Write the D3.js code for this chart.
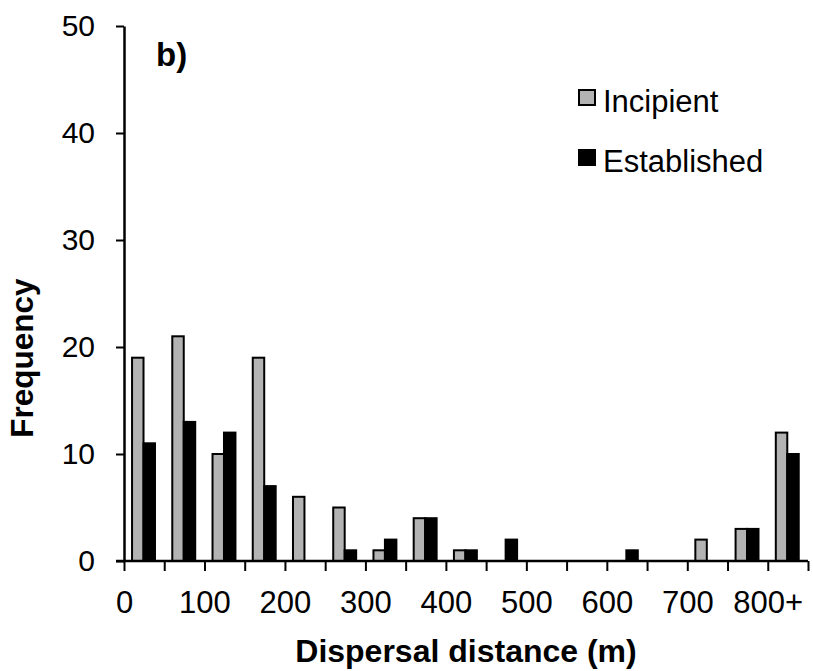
<!DOCTYPE html>
<head>
    <meta charset="utf-8">
    <title>Dispersal distance</title>
    <style>
        body { margin: 0; background: #fff; }
        svg text { font-family: "Liberation Sans", Arial, sans-serif; fill: #000; }
    </style>
</head>
<body>

<svg width="813" height="671"></svg>

<script src="https://d3js.org/d3.v7.min.js"></script>

<script>
    // bins of 50 m, last one is 800+
    var bins = [0, 50, 100, 150, 200, 250, 300, 350, 400, 450, 500, 550, 600, 650, 700, 750, 800];
    var incipient   = [19, 21, 10, 19, 6, 5, 1, 4, 1, 0, 0, 0, 0, 0, 2, 3, 12];
    var established = [11, 13, 12, 7, 0, 1, 2, 4, 1, 2, 0, 0, 1, 0, 0, 3, 10];
    var labelValues = [0, 100, 200, 300, 400, 500, 600, 700, 800];
    var labelText   = ["0", "100", "200", "300", "400", "500", "600", "700", "800+"];
    var yTicks = [0, 10, 20, 30, 40, 50];

    var series = ["Incipient", "Established"];
    var colors = { "Incipient": "#b3b3b3", "Established": "#000" };

    // plot area edges (note: "top" is reserved on window, so use other names)
    var svg = d3.select("svg"),
        plotL = 124, plotR = 808, plotT = 26, plotB = 561;

    // band scale for the bins
    var x0 = d3.scaleBand()
        .domain(bins)
        .range([plotL, plotR])
        .padding(0);

    var x1 = d3.scaleBand()
        .domain(series)
        .range([x0.bandwidth() * 0.2, x0.bandwidth() * 0.77]);

    // linear distance scale, only for tick marks and labels
    var xd = d3.scaleLinear()
        .domain([0, 850])
        .range([plotL, plotR]);

    var y = d3.scaleLinear()
        .domain([0, 50])
        .range([plotB, plotT]);

    // bars
    var rows = bins.map(function(b, i) {
        return { bin: b, values: [
            { key: "Incipient", value: incipient[i] },
            { key: "Established", value: established[i] }
        ] };
    });

    var groups = svg.append("g")
        .selectAll("g")
        .data(rows)
        .enter().append("g")
            .attr("transform", function(d) { return "translate(" + x0(d.bin) + ",0)"; });

    groups.selectAll("rect")
        .data(function(d) { return d.values.filter(function(v) { return v.value > 0; }); })
        .enter().append("rect")
            .attr("x", function(d) { return x1(d.key); })
            .attr("width", x1.bandwidth())
            .attr("y", function(d) { return y(d.value); })
            .attr("height", function(d) { return y(0) - y(d.value); })
            .attr("fill", function(d) { return colors[d.key]; })
            .attr("stroke", "#000")
            .attr("stroke-width", 2);

    // y axis
    var yAxis = svg.append("g")
        .attr("transform", "translate(" + plotL + ",0)")
        .call(d3.axisLeft(y)
            .tickValues(yTicks)
            .tickSize(8)
            .tickSizeOuter(0)
            .tickPadding(21));
    yAxis.selectAll("line").attr("stroke-width", 2);
    yAxis.select(".domain").attr("stroke-width", 2.5);
    yAxis.selectAll("text")
        .attr("font-size", 30)
        .attr("font-family", "Liberation Sans, Arial, sans-serif");

    // x axis: tick marks at bin edges
    var xTicks = svg.append("g")
        .attr("transform", "translate(0," + plotB + ")")
        .call(d3.axisBottom(xd)
            .tickValues(d3.range(0, 851, 50))
            .tickSize(10)
            .tickSizeOuter(0)
            .tickFormat(""));
    xTicks.selectAll("line").attr("stroke-width", 2);
    xTicks.select(".domain")
        .attr("stroke-width", 2.5)
        .attr("d", "M" + (plotL - 8) + ",0H" + plotR);

    // x labels every 100 m
    var xLabels = svg.append("g")
        .attr("transform", "translate(0," + plotB + ")")
        .call(d3.axisBottom(xd)
            .tickValues(labelValues)
            .tickSize(0)
            .tickPadding(30)
            .tickFormat(function(d, i) { return labelText[i]; }));
    xLabels.select(".domain").remove();
    xLabels.selectAll("text")
        .attr("font-size", 31)
        .attr("font-family", "Liberation Sans, Arial, sans-serif");

    // axis titles
    svg.append("text")
        .attr("x", 466)
        .attr("y", 662)
        .attr("text-anchor", "middle")
        .attr("font-size", 32)
        .attr("font-weight", "bold")
        .text("Dispersal distance (m)");

    svg.append("text")
        .attr("transform", "translate(33,358) rotate(-90)")
        .attr("text-anchor", "middle")
        .attr("font-size", 31.5)
        .attr("font-weight", "bold")
        .text("Frequency");

    svg.append("text")
        .attr("x", 156)
        .attr("y", 66)
        .attr("font-size", 33)
        .attr("font-weight", "bold")
        .text("b)");

    // legend
    var legend = svg.append("g")
        .selectAll("g")
        .data(series)
        .enter().append("g")
            .attr("transform", function(d, i) { return "translate(579," + (112 + i * 60) + ")"; });

    legend.append("rect")
        .attr("x", 0)
        .attr("y", -22)
        .attr("width", 16)
        .attr("height", 15)
        .attr("fill", function(d) { return colors[d]; })
        .attr("stroke", "#000")
        .attr("stroke-width", 2);

    legend.append("text")
        .attr("x", 24)
        .attr("y", 0)
        .attr("font-size", 31)
        .text(function(d) { return d; });
</script>

</body>
